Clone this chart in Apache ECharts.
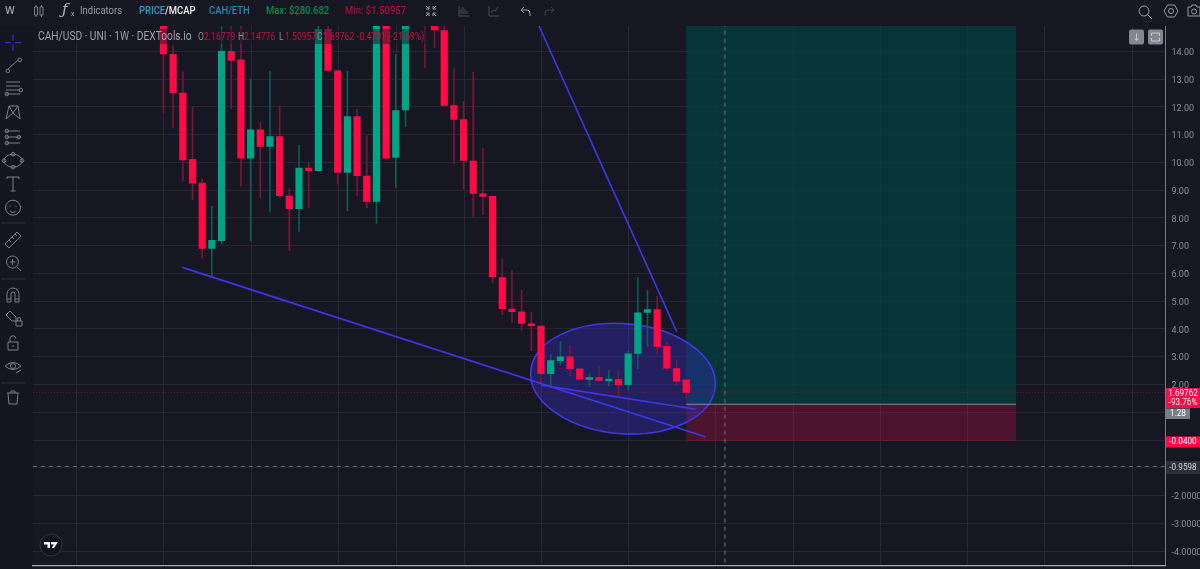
<!DOCTYPE html>
<html><head><meta charset="utf-8">
<style>html,body{margin:0;padding:0;background:#171724;overflow:hidden}#c{width:1200px;height:569px}</style>
<script src="https://cdn.jsdelivr.net/npm/echarts@6/dist/echarts.min.js"></script>
</head><body><div id="c"></div>
<script>
// ---- data ----
const firstCandleSlot = 13;
const opens  = [15.3,13.89,12.50,10.11,9.26,6.88,7.16,14.0,13.69,10.13,11.17,10.55,10.93,8.79,8.31,9.80,9.68,14.79,13.30,9.62,11.65,9.51,8.57,15.1,10.16,11.87,15.5,17.5,15.05,14.75,12.05,11.54,10.05,8.87,8.78,5.85,4.72,4.62,4.19,4.11,2.37,2.84,3.00,2.57,2.19,2.25,2.14,2.19,1.97,3.10,4.57,4.70,3.38,2.58,2.16779];
const highs  = [15.6,14.2,13.26,12.0,9.41,8.42,15.1,15.0,15.0,13.0,11.43,13.28,12.05,9.05,10.62,10.0,15.1,15.1,13.3,13.28,11.91,10.97,15.3,15.3,13.89,15.6,18.5,18.0,15.2,15.0,13.4,12.2,13.24,10.5,8.8,6.52,6.1,5.39,4.6,4.11,3.08,3.56,3.41,2.57,2.39,2.66,2.51,2.49,3.2,5.85,5.39,5.18,3.51,2.87,2.17];
const lows   = [11.78,11.22,9.30,8.63,6.53,5.87,7.05,11.91,9.11,7.16,8.69,8.19,8.72,6.81,7.49,8.34,9.66,13.27,9.2,8.24,8.79,8.34,7.78,10.07,9.08,11.27,15.2,13.38,14.12,12.03,9.92,9.02,8.03,8.09,5.63,4.5,4.22,3.93,3.2,1.97,1.91,2.68,2.3,2.18,1.91,2.13,1.94,1.53,1.79,2.55,3.35,3.11,2.49,1.94,1.50957];
const closes = [13.88,12.48,10.07,9.23,6.88,7.19,14.0,13.65,10.13,11.17,10.55,10.93,8.78,8.31,9.80,9.68,14.79,13.29,9.62,11.65,9.50,8.57,15.0,10.13,11.87,15.5,17.5,15.2,14.75,12.03,11.52,10.05,8.86,8.75,5.85,4.71,4.60,4.18,4.10,2.37,2.86,3.00,2.55,2.18,2.25,2.13,2.20,1.96,3.11,4.58,4.70,3.35,2.57,2.10,1.69762];
const verticalGridSlots = [4,13,22,31,37,44,52,61,70,78,87,96,104,113];
const lastPrice = 1.69762, entryPrice = 1.28, stopPrice = -0.04, crossPrice = -0.9598;
const crossSlot = 71;
const trendLineA = [[15.44,6.21],[69.47,0.11]];
const trendLineB = [[52.53,1.97],[68.48,1.10]];
const trendLineC = [[52.29,14.9],[66.52,3.89]];
const ellipseData = [[60.97,2.2,9.56,1.98]];
const profitZone = [[67.5,101.57,entryPrice,15]];
const lossZone   = [[67.5,101.57,stopPrice,entryPrice]];
const totalSlots = 117;
const hiddenTicks = [1,0,-1,-5,15];
const priceTags = [
 {price:lastPrice, lines:['1.69762','-93.76%'], bg:'#ff0a47', fg:'#fff', h:20, w:34, shift:5.4},
 {price:entryPrice, lines:['1.28'], bg:'#7b7c86', fg:'#fff', h:10.5, w:24, shift:9.5},
 {price:stopPrice, lines:['-0.0400'], bg:'#ff0a47', fg:'#fff', h:11, w:34, shift:1},
 {price:crossPrice, lines:['-0.9598'], bg:'#2c2e3a', fg:'#d8d8dd', h:13, w:34, shift:1}
];
// ---- styling ----
const UP='#00a585', DOWN='#ff0a47', UPW='#0d5f57', DOWNW='#7a1638', BLUE='#4036ea', BG='#171724';
const categories = Array.from({length:totalSlots},(_,i)=>String(i));
const candleRows = opens.map((o,i)=>[i+firstCandleSlot+0.5,o,closes[i],lows[i],highs[i]]);

function line(id,data,color,width,type,z){return {type:'line',name:id,xAxisIndex:1,yAxisIndex:0,data,symbol:'none',silent:true,z,clip:true,
  lineStyle:{color,width,type:type||'solid',cap:'butt'},animation:false};}
function zone(data,fill,z){return {type:'custom',xAxisIndex:1,yAxisIndex:0,clip:true,silent:true,z,data,encode:{x:[0,1],y:[2,3]},
  renderItem(p,api){const a=api.coord([api.value(0),api.value(3)]),b=api.coord([api.value(1),api.value(2)]);
    return {type:'rect',shape:{x:a[0],y:a[1],width:b[0]-a[0],height:b[1]-a[1]},style:{fill}};}};}

const ICON='#7c7d87';
const circ='a1.8 1.8 0 1 0 3.6 0a1.8 1.8 0 1 0 -3.6 0z';
const iconList=[
 [38,11,'M-3.5 -4h3v8h-3zM-2 -6v2M-2 4v2M2 -4h3v8h-3zM3.5 -6v2M3.5 4v2'],
 [431,11,'M-5 -5l3 3M-2 -5v3h-3M5 -5l-3 3M2 -5v3h3M-5 5l3 -3M-2 5v-3h-3M5 5l-3 -3M2 5v-3h3','#9a9ba3'],
 [464,11,'M-5 -5v10h10M-3 3v-5M-1 3v-7M1 3v-5M3 3v-3','#4b4c57'],
 [494,11,'M-5 -5v10h10M-3 2l2 -3l2 1l3 -4','#4b4c57'],
 [525,11,'M-4 -1h6a3 3 0 0 1 3 3v3M-4 -1l3 -3M-4 -1l3 3','#9a9ba3'],
 [550,11,'M4 -1h-6a3 3 0 0 0 -3 3v3M4 -1l-3 -3M4 -1l-3 3','#3f404b'],
 [1144,11,'M-5 0a5 5 0 1 0 10 0a5 5 0 1 0 -10 0zM4 4l4 4','#9a9ba3'],
 [1171,11,'M-3.5 -6h7l3.5 6l-3.5 6h-7l-3.5 -6zM-2.5 0a2.5 2.5 0 1 0 5 0a2.5 2.5 0 1 0 -5 0z','#9a9ba3'],
 [1194,11,'M-6 -4h3l1 -2h4l1 2h3v9h-12zM-2.5 0.5a2.5 2.5 0 1 0 5 0a2.5 2.5 0 1 0 -5 0z','#9a9ba3'],
 [1136.5,37,'M0 -3.5v7M-2 1.5l2 2l2 -2','#c8c9cd'],
 [1155.5,37,'M-4 -1v-3h8v3M-4 1v3h8v-3','#c8c9cd'],
 [13,42.7,'M-8 0h6M2 0h6M0 -8v6M0 2v6',BLUE],
 [13,65,'M-7 6'+circ+'M-5 4L5 -5M5 -5'+circ],
 [13,88,'M-7 -6h14M-7 -2h14M-7 2h14M-7 6h14M6 2'+circ+'M-8 6'+circ],
 [13,112,'M-7 7L-4 -6L0 1L5 -6L7 7M-7 7L0 1L7 7M-4 -6L5 -6'],
 [13,137,'M-7 -6h14M-7 0h14M-7 6h14M-8 -6'+circ+'M-8 0'+circ+'M-8 6'+circ+'M4 0'+circ],
 [13,160.7,'M-9 0a9 6.5 0 1 0 18 0a9 6.5 0 1 0 -18 0zM-10.8 0'+circ+'M7.2 0'+circ+'M-1.8 -6.5'+circ+'M-1.8 6.5'+circ],
 [13,184,'M-6 -5v-2h12v2M0 -7v14M-2.5 7h5'],
 [13,207.7,'M-7.5 0a7.5 7.5 0 1 0 15 0a7.5 7.5 0 1 0 -15 0zM-3 3a3.5 3.5 0 0 0 6 0M-3 -2v1M3 -2v1'],
 [13,240,'M-8 4L4 -8L8 -4L-4 8zM-4 0l2 2M-1 -3l2 2M2 -6l2 2'],
 [13,263,'M-6.5 -1a6 6 0 1 0 12 0a6 6 0 1 0 -12 0zM4 4l4 4M-3.5 -1h6M-0.5 -4v6'],
 [13,295,'M-6 7v-8a6 6 0 0 1 12 0v8h-4v-8a2 2 0 0 0 -4 0v8zM-6 4h4M2 4h4'],
 [13,318,'M-7 -3L-3 -7L3 -1L3 3L-1 3zM3 3h6v5h-6zM4.5 3v-2a1.5 1.5 0 0 1 3 0v2'],
 [13,343,'M-5 -1h10v8h-10zM-3 -1v-3a3 3 0 0 1 6 -0.5M0 2v2'],
 [13,367,'M-8 -1Q0 -8 8 -1Q0 6 -8 -1zM-2.5 -1a2.5 2.5 0 1 0 5 0a2.5 2.5 0 1 0 -5 0zM3 6l5 -3'],
 [13,398,'M-6 -5h12M-2 -5v-2h4v2M-5 -5l1 11h8l1 -11'],
 [51,545,'M-7 -3h6v6h-2.5v-3.5h-3.5zM-0 -3h7L3 3h-2.5L3 -0.5H0z','none','#f4f4f6']
];

const series=[
 {type:'custom',xAxisIndex:1,yAxisIndex:0,silent:true,z:1,clip:true,data:verticalGridSlots.map(v=>[v+0.5]),encode:{x:0},
  renderItem(p,api){const x=Math.round(api.coord([api.value(0),0])[0])+0.5,t=p.coordSys.y,b=t+p.coordSys.height;
    return {type:'line',shape:{x1:x,y1:t,x2:x,y2:b},style:{stroke:'#272833',lineWidth:1}};}},
 zone(profitZone,'rgba(2,62,60,0.76)',2),
 zone(lossZone,'rgba(255,14,72,0.23)',2),
 line('entry',[[67.5,entryPrice],[101.57,entryPrice]],'#84908f',1,'solid',3),
 {type:'custom',xAxisIndex:1,yAxisIndex:0,silent:true,z:3,clip:true,data:ellipseData,encode:{x:0,y:1},
  renderItem(p,api){const c=api.coord([api.value(0),api.value(1)]),s=api.size([api.value(2),api.value(3)]);
    return {type:'ellipse',x:c[0],y:c[1],rotation:-0.085,shape:{cx:0,cy:0,rx:s[0],ry:s[1]},
      style:{fill:'rgba(56,50,225,0.30)',stroke:BLUE,lineWidth:1.6}};}},
 line('last',[[0,lastPrice],[totalSlots,lastPrice]],DOWNW,1,[1,2],4),
 {type:'custom',xAxisIndex:1,yAxisIndex:0,silent:true,z:5,clip:true,data:candleRows,encode:{x:0,y:[1,2,3,4]},
  renderItem(p,api){
    const x=api.value(0),o=api.value(1),c=api.value(2),l=api.value(3),h=api.value(4),up=c>=o;
    const px=api.coord([x,0])[0],yo=api.coord([x,o])[1],yc=api.coord([x,c])[1],yl=api.coord([x,l])[1],yh=api.coord([x,h])[1];
    const top=Math.min(yo,yc),bh=Math.max(Math.abs(yo-yc),2.5);
    return {type:'group',children:[
      {type:'rect',shape:{x:px-0.8,y:yh,width:1.6,height:yl-yh},style:{fill:up?UPW:DOWNW}},
      {type:'rect',shape:{x:px-3.6,y:top,width:7.2,height:bh},style:{fill:up?UP:DOWN}}
    ]};}},
 line('a',trendLineA,BLUE,1.7,'solid',6),
 line('b',trendLineB,BLUE,1.7,'solid',6),
 line('c',trendLineC,BLUE,1.7,'solid',6),
 line('crossH',[[0,crossPrice],[totalSlots,crossPrice]],'#6a6b76',1,[4,4],7),
 line('crossV',[[crossSlot+0.5,-5],[crossSlot+0.5,15]],'#7a7b85',1,[4,4],7),
 {type:'custom',xAxisIndex:1,yAxisIndex:0,silent:true,z:8,clip:false,data:priceTags.map((t,i)=>[i,t.price]),encode:{y:1},
  renderItem(p,api){const t=priceTags[api.value(0)],y=api.coord([0,t.price])[1]+t.shift,x=p.coordSys.x+p.coordSys.width+0.6;
    return {type:'group',children:[
      {type:'rect',shape:{x,y:y-t.h/2,width:t.w,height:t.h},style:{fill:t.bg}},
      {type:'text',x:x+t.w/2,y,scaleX:0.86,style:{x:0,y:0,text:t.lines.join('\n'),fill:t.fg,font:'9.5px Roboto',align:'center',verticalAlign:'middle',lineHeight:9.5}}
    ]};}},
 {type:'custom',coordinateSystem:'none',silent:true,z:120,clip:false,data:[[0]],
  renderItem(){return {type:'group',children:iconList.map(a=>({type:'path',x:a[0],y:a[1],shape:{pathData:a[2]},
    style:{fill:a[4]||'none',stroke:a[3]||ICON,lineWidth:1}}))};}}
];

const txt=(x,y,text,fill,size,weight,sx)=>({type:'text',z:101,x,y,scaleX:sx||1,silent:true,style:{text,fill,font:(weight||'normal')+' '+(size||11)+'px Roboto',verticalAlign:'middle'}});
const rect=(x,y,w,h,fill,z,r)=>({type:'rect',z:z||100,silent:true,shape:{x,y,width:w,height:h,r:r||0},style:{fill}});
const NS=0.86;
const graphics=[
 rect(35,29,395,15,'rgba(23,23,36,0.5)',60),
 rect(0,0,32.4,569,'#15151f',100),
 rect(0,0,1200,26,BG,100),
 rect(32,566,1168,3,BG,100),
 rect(32,565,1134,1.2,'#a4a5ae',101),
 txt(5,11,'W','#b4b5bc',11),
 {type:'text',z:101,x:62,y:10,silent:true,style:{text:'ƒ',fill:'#b4b5bc',font:'italic 15px "DejaVu Serif"',verticalAlign:'middle'}},
 txt(71,14,'x','#b4b5bc',7),
 txt(80,11,'Indicators','#9b9ca5',11,'normal',NS),
 txt(139,11,'PRICE','#23a2cf',11,'500',NS),
 txt(165,11,'/MCAP','#f0f0f4',11,'500',NS),
 txt(209,11,'CAH/ETH','#1e8fb4',11,'500',NS),
 txt(266,11,'Max: $280.682','#0d8a4c',11,'500',NS),
 txt(345,11,'Min: $1.50957','#a80f3d',11,'500',NS),
 txt(38,37,'CAH/USD · UNI · 1W · DEXTools.io','#a0a1aa',12,'normal',0.85),
 txt(198,37,'O','#8f9099',10,'normal',NS), txt(204,37,'2.16779','#c8103f',10,'normal',NS),
 txt(238,37,'H','#8f9099',10,'normal',NS), txt(244,37,'2.14776','#c8103f',10,'normal',NS),
 txt(279,37,'L','#8f9099',10,'normal',NS), txt(285,37,'1.50957','#c8103f',10,'normal',NS),
 txt(317,37,'C','#8f9099',10,'normal',NS), txt(323,37,'1.69762','#c8103f',10,'normal',NS),
 txt(357,37,'-0.4701','#c8103f',10,'normal',NS), txt(388,37,'(-21.69%)','#c8103f',10,'normal',NS),
 rect(1129,29.5,15,15,'#85868d',101,2),
 rect(1148,29.5,15,15,'#85868d',101,2),
 rect(1,222.5,24,1,'#32333e',101),
 rect(1,278.5,24,1,'#32333e',101),
 rect(1,382.5,24,1,'#32333e',101),
 {type:'circle',z:101,silent:true,shape:{cx:51,cy:545,r:11},style:{fill:'#13131c',stroke:'#32333f',lineWidth:1}}
];

const chart=echarts.init(document.getElementById('c'),null,{renderer:'canvas'});
chart.setOption({
 animation:false,backgroundColor:BG,
 grid:{left:32.8,top:23.23,width:1132.6,height:555.4,containLabel:false,outerBoundsMode:'none'},
 xAxis:[
  {type:'category',data:categories,show:false,boundaryGap:true},
  {type:'value',min:0,max:totalSlots,show:false}
 ],
 yAxis:[{type:'value',position:'right',min:-5,max:15,interval:1,scale:false,
  axisLine:{show:true,onZero:false,lineStyle:{color:'#787b86',width:1}},axisTick:{show:false},
  splitLine:{show:true,lineStyle:{color:'#252631',width:1}},
  axisLabel:{color:'#8e8f98',fontSize:9,fontFamily:'Roboto',margin:6,align:'left',verticalAlign:'top',lineHeight:3.5,
    formatter:v=>hiddenTicks.includes(v)?'':(v>0?v.toFixed(2):v.toFixed(4))}}],
 graphic:{z:100,elements:graphics},
 series
});
</script></body></html>
